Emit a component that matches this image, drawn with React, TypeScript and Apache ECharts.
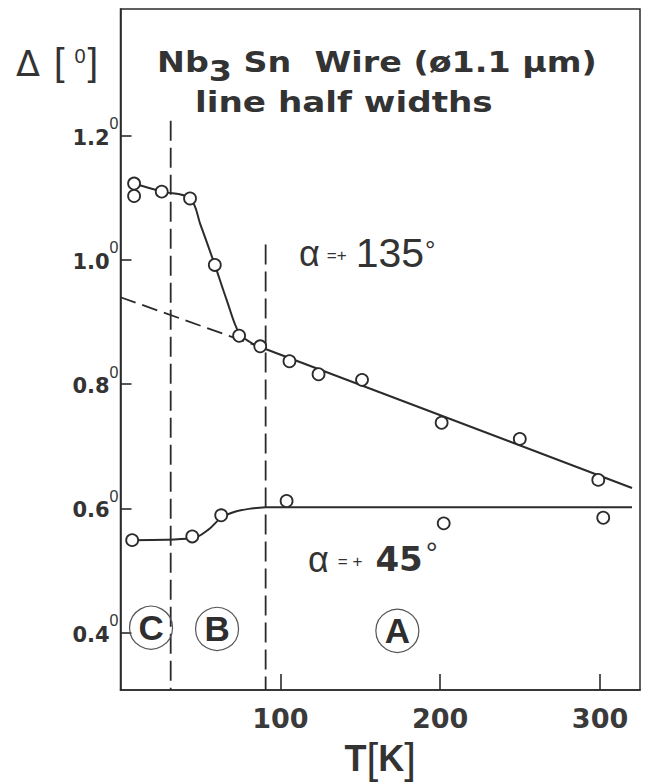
import React, { useEffect, useRef } from "react";
import * as echarts from "echarts";

// alpha = +135 deg measured half widths
const T_135 = [8.5, 8.5, 25.8, 43.5, 59, 74.2, 87.4, 105.7, 123.9, 151.1, 200.9, 249.8, 298.9];
const D_135 = [1.123, 1.103, 1.11, 1.099, 0.992, 0.878, 0.861, 0.837, 0.816, 0.807, 0.738, 0.712, 0.646];
// alpha = +45 deg measured half widths
const T_45 = [7.3, 44.9, 63, 103.9, 202.2, 302];
const D_45 = [0.549, 0.555, 0.589, 0.612, 0.576, 0.585];

// hand-drawn guide curves
const CURVE135_T = [8.5, 25.8, 43.5, 50, 59, 66.5, 74.2, 81, 87.4];
const CURVE135_D = [1.123, 1.11, 1.099, 1.057, 0.992, 0.935, 0.882, 0.868, 0.86];
const FIT135_T = [87.4, 320];
const FIT135_D = [0.86, 0.633];
const EXTRAP135_T = [0, 87.4];
const EXTRAP135_D = [0.94, 0.86];
const CURVE45_T = [7.3, 45, 55, 63, 72, 82, 91];
const CURVE45_D = [0.549, 0.552, 0.566, 0.585, 0.595, 0.6, 0.602];
const FLAT45_T = [91, 320];
const FLAT45_D = [0.602, 0.602];

// phase boundaries (dashed verticals)
const BOUNDARY_T = [31.4, 90.8];
const BOUNDARY_TOP = [1.224, 1.025];

// region markers
const REGION_NAMES = ["C", "B", "A"];
const REGION_T = [19.1, 60.4, 173.2];
const REGION_D = [0.408, 0.406, 0.403];

const X_TICKS = [100, 200, 300];
const Y_TICKS = [0.4, 0.6, 0.8, 1.0, 1.2];
const X_MIN = 0;
const X_MAX = 325;
const Y_MIN = 0.3076;
const Y_MAX = 1.404;

const zip = (xs: number[], ys: number[]) => xs.map((x, i) => [x, ys[i]]);

export default function App() {
  const ref = useRef<HTMLDivElement>(null);
  useEffect(() => {
    const chart = echarts.init(ref.current!, null, { renderer: "svg" });
    const INK = "#2b2b2b";
    const TXT = "#333333";
    const SANS = "Liberation Sans";
    const DJ = "DejaVu Sans";
    const solid = { color: INK, width: 2 };

    const lineSeries = (data: number[][], extra: any = {}) => ({
      type: "line",
      data,
      symbol: "none",
      silent: true,
      lineStyle: { ...solid },
      z: 2,
      ...extra,
    });

    const boundaries = BOUNDARY_T.map((t, i) =>
      lineSeries(
        [
          [t, BOUNDARY_TOP[i]],
          [t, Y_MIN],
        ],
        { lineStyle: { color: INK, width: 1.8, type: [20, 7] } }
      )
    );

    const pointStyle = { color: "#ffffff", borderColor: INK, borderWidth: 1.8, opacity: 1 };

    chart.setOption({
      animation: false,
      backgroundColor: "#ffffff",
      grid: {
        left: 120.5,
        right: 8,
        top: 9,
        bottom: 86.7,
        show: true,
        borderColor: INK,
        borderWidth: 1.5,
      },
      xAxis: {
        type: "value",
        min: X_MIN,
        max: X_MAX,
        axisLine: { show: true, lineStyle: { color: INK, width: 1.6 } },
        axisTick: {
          show: true,
          inside: true,
          length: 16,
          customValues: X_TICKS,
          lineStyle: { color: INK, width: 1.6 },
        },
        axisLabel: {
          customValues: X_TICKS,
          margin: 15,
          fontSize: 27,
          fontWeight: "bold",
          fontFamily: DJ,
          color: "#3a3a3a",
        },
        splitLine: { show: false },
        name: "{t|T}{b|[}{t|K}{b|]}",
        nameLocation: "middle",
        nameGap: 46,
        nameTextStyle: {
          rich: {
            t: { fontSize: 36, fontWeight: "bold", fontFamily: SANS, color: TXT },
            b: { fontSize: 42, fontWeight: "normal", fontFamily: SANS, color: TXT },
          },
        },
      },
      yAxis: {
        type: "value",
        min: Y_MIN,
        max: Y_MAX,
        axisLine: { show: true, lineStyle: { color: INK, width: 1.6 } },
        axisTick: {
          show: true,
          inside: true,
          length: 11,
          customValues: Y_TICKS,
          lineStyle: { color: INK, width: 1.6 },
        },
        axisLabel: {
          customValues: Y_TICKS,
          margin: 2,
          formatter: (v: number) => `{v|${v.toFixed(1)}}{s|0}`,
          rich: {
            v: {
              fontSize: 21,
              fontWeight: "bold",
              fontFamily: DJ,
              color: TXT,
              padding: [4, 0, 0, 0],
            },
            s: {
              fontSize: 16,
              fontFamily: SANS,
              color: TXT,
              padding: [0, 0, 24, 0],
            },
          },
        },
        splitLine: { show: false },
      },
      graphic: [
        {
          type: "text",
          x: 16,
          y: 62,
          style: {
            text: "{d|Δ}{b|[}{s|0}{b|]}",
            align: "left",
            verticalAlign: "middle",
            rich: {
              d: { fontSize: 35, fontFamily: DJ, fill: TXT, padding: [3, 14, 0, 0] },
              b: { fontSize: 38, fontFamily: SANS, fill: TXT },
              s: { fontSize: 20, fontFamily: SANS, fill: TXT, padding: [0, 2, 12, 10] },
            },
          },
        },
        {
          type: "text",
          x: 157,
          y: 62,
          scaleX: 1.15,
          style: {
            text: "{a|Nb}{s|3}{a| Sn  Wire (ø1.1 μm)}",
            align: "left",
            verticalAlign: "middle",
            rich: {
              a: { fontSize: 29, fontWeight: "bold", fontFamily: DJ, fill: TXT },
              s: { fontSize: 29, fontWeight: "bold", fontFamily: DJ, fill: TXT, padding: [18, 0, 0, 0] },
            },
          },
        },
        {
          type: "text",
          x: 195,
          y: 102,
          scaleX: 1.18,
          style: {
            text: "line half widths",
            align: "left",
            verticalAlign: "middle",
            fontSize: 29,
            fontWeight: "bold",
            fontFamily: DJ,
            fill: TXT,
          },
        },
        {
          type: "text",
          x: 299,
          y: 253,
          style: {
            text: "{a|α}{e|=+}{n|135}{d|°}",
            align: "left",
            verticalAlign: "middle",
            rich: {
              a: { fontSize: 36, fontFamily: SANS, fill: TXT },
              e: { fontSize: 17, fontFamily: SANS, fill: TXT, padding: [4, 9, 0, 7] },
              n: { fontSize: 41, fontFamily: SANS, fill: TXT },
              d: { fontSize: 26, fontFamily: SANS, fill: TXT, padding: [0, 0, 6, 1] },
            },
          },
        },
        {
          type: "text",
          x: 308,
          y: 559,
          style: {
            text: "{a|α}{e|= +}{n|45}{d|°}",
            align: "left",
            verticalAlign: "middle",
            rich: {
              a: { fontSize: 36, fontFamily: SANS, fill: TXT },
              e: { fontSize: 17, fontFamily: SANS, fill: TXT, padding: [4, 13, 0, 9] },
              n: { fontSize: 34, fontWeight: "bold", fontFamily: DJ, fill: TXT },
              d: { fontSize: 30, fontFamily: SANS, fill: TXT, padding: [0, 0, 14, 3] },
            },
          },
        },
      ],
      series: [
        lineSeries(zip(EXTRAP135_T, EXTRAP135_D), {
          lineStyle: { color: INK, width: 1.8, type: [16, 7] },
        }),
        ...boundaries,
        lineSeries(zip(CURVE135_T, CURVE135_D), { smooth: 0.35 }),
        lineSeries(zip(FIT135_T, FIT135_D)),
        lineSeries(zip(CURVE45_T, CURVE45_D), { smooth: 0.35 }),
        lineSeries(zip(FLAT45_T, FLAT45_D)),
        {
          type: "scatter",
          name: "α = +135°",
          data: zip(T_135, D_135),
          symbol: "circle",
          symbolSize: 12,
          itemStyle: pointStyle,
          z: 5,
        },
        {
          type: "scatter",
          name: "α = +45°",
          data: zip(T_45, D_45),
          symbol: "circle",
          symbolSize: 12,
          itemStyle: pointStyle,
          z: 5,
        },
        {
          type: "scatter",
          name: "regions",
          data: REGION_NAMES.map((n, i) => ({ name: n, value: [REGION_T[i], REGION_D[i]] })),
          symbol: "circle",
          symbolSize: 43,
          silent: true,
          itemStyle: { color: "rgba(255,255,255,0)", borderColor: "#555555", borderWidth: 1.2, opacity: 1 },
          label: {
            show: true,
            position: "inside",
            formatter: "{b}",
            fontSize: 35,
            fontWeight: "bold",
            fontFamily: SANS,
            color: "#2e2e2e",
            textBorderWidth: 0,
            textBorderColor: "transparent",
          },
          z: 6,
        },
      ],
    });
    return () => chart.dispose();
  }, []);

  return (
    <div
      ref={ref}
      style={{ position: "fixed", left: 0, top: 0, width: 648, height: 784, background: "#fff" }}
    />
  );
}
